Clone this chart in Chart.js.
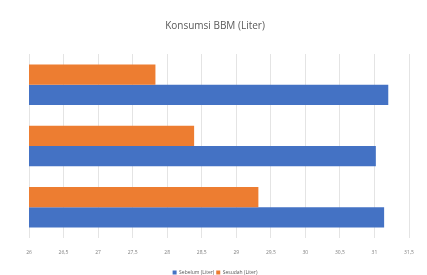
<!DOCTYPE html>
<html lang="id">
<head>
    <meta charset="UTF-8">
    <title>Konsumsi BBM (Liter)</title>
    <script src="https://cdn.jsdelivr.net/npm/chart.js@4/dist/chart.umd.min.js"></script>
    <style>
        html, body { margin: 0; padding: 0; background: #ffffff; }
        .wrap { width: 427px; height: 275px; }
    </style>
</head>
<body>
    <div class="wrap"><canvas id="myChart" width="427" height="275"></canvas></div>
    <script>
        // data
        var categories = ['Pengujian 1', 'Pengujian 2', 'Pengujian 3'];
        var seriesNames = ['Sebelum (Liter)', 'Sesudah (Liter)'];
        var sebelum = [31.2, 31.02, 31.14];
        var sesudah = [27.83, 28.39, 29.32];
        var tickLabels = ['26', '26,5', '27', '27,5', '28', '28,5', '29', '29,5', '30', '30,5', '31', '31,5'];

        var ctx = document.getElementById('myChart').getContext('2d');
        var myChart = new Chart(ctx, {
            type: 'bar',
            data: {
                labels: categories,
                datasets: [
                    {
                        label: seriesNames[1],
                        data: sesudah,
                        backgroundColor: '#ED7D31'
                    },
                    {
                        label: seriesNames[0],
                        data: sebelum,
                        backgroundColor: '#4472C4'
                    }
                ]
            },
            options: {
                indexAxis: 'y',
                responsive: false,
                animation: false,
                layout: { padding: { left: 21, right: 18, top: 6, bottom: -10 } },
                datasets: { bar: { categoryPercentage: 0.66, barPercentage: 1 } },
                plugins: {
                    title: {
                        display: true,
                        text: 'Konsumsi BBM (Liter)',
                        color: '#595959',
                        font: { family: 'Open Sans', size: 10, weight: 'normal' },
                        padding: { top: 14, bottom: 22 }
                    },
                    legend: {
                        position: 'bottom',
                        reverse: true,
                        labels: {
                            boxWidth: 4,
                            boxHeight: 4,
                            color: '#595959',
                            font: { family: 'Open Sans', size: 5 },
                            padding: 2
                        }
                    },
                    tooltip: { enabled: false }
                },
                scales: {
                    x: {
                        min: 26,
                        max: 31.5,
                        ticks: {
                            stepSize: 0.5,
                            color: '#7f7f7f',
                            font: { family: 'Open Sans', size: 5 },
                            maxRotation: 0,
                            padding: 12,
                            callback: function (v, i) { return tickLabels[i]; }
                        },
                        grid: { color: '#e4e4e4', drawTicks: false },
                        border: { display: false }
                    },
                    y: {
                        ticks: { display: false },
                        grid: { display: false },
                        border: { display: false }
                    }
                }
            }
        });
    </script>
</body>
</html>
